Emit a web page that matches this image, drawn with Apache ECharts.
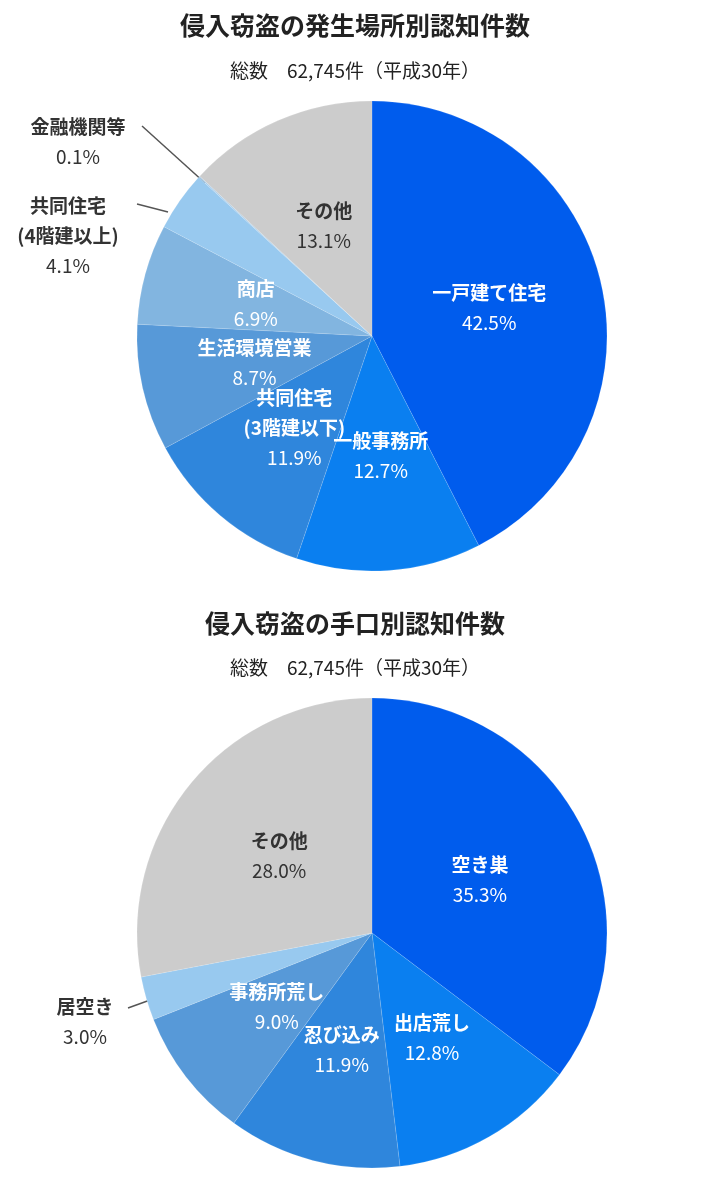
<!DOCTYPE html>
<html>
<head>
<meta charset="UTF-8">
<script src="https://cdn.jsdelivr.net/npm/echarts@6/dist/echarts.min.js"></script>
<style>
  html, body { margin: 0; padding: 0; background: #fff; }
  #main { width: 701px; height: 1184px; }
</style>
</head>
<body>
<div id="main"></div>
<script>
  // 発生場所別
  var placeNames = ['一戸建て住宅', '一般事務所', '共同住宅\n(3階建以下)', '生活環境営業', '商店', '共同住宅\n(4階建以上)', '金融機関等', 'その他'];
  var placeValues = [42.5, 12.7, 11.9, 8.7, 6.9, 4.1, 0.1, 13.1];
  var placeColors = ['#005ced', '#0a7ff0', '#2f86dc', '#5799d8', '#82b5e0', '#98c9ef', '#a9cdea', '#cccccc'];
  // 手口別
  var methodNames = ['空き巣', '出店荒し', '忍び込み', '事務所荒し', '居空き', 'その他'];
  var methodValues = [35.3, 12.8, 11.9, 9.0, 3.0, 28.0];
  var methodColors = ['#005ced', '#0a7ff0', '#2f86dc', '#5799d8', '#98c9ef', '#cccccc'];

  var font = '"Noto Sans CJK JP", "Noto Sans", sans-serif';

  // 外側ラベルの位置 (名前 -> [x, y, 線の起点x, 起点y])
  var outside = {
    '金融機関等': [78, 140, 142, 126],
    '共同住宅\n(4階建以上)': [70, 236, 130, 204],
    '居空き': [85, 1020, 130, 1004]
  };

  function buildData(names, values, colors) {
    return names.map(function (n, i) {
      var dark = n === 'その他';
      var item = {
        name: n, value: values[i],
        itemStyle: { color: colors[i] },
        label: { color: dark ? '#333' : '#fff' }
      };
      if (outside[n]) {
        item.label = { color: '#333', position: 'outside' };
        item.labelLine = { show: true, lineStyle: { color: '#555', width: 1.5 } };
      }
      return item;
    });
  }

  function pieSeries(cy, names, values, colors) {
    return {
      type: 'pie',
      center: [372, cy],
      radius: 235,
      startAngle: 90,
      clockwise: true,
      silent: true,
      itemStyle: { borderColor: 'rgba(255,255,255,0.25)', borderWidth: 0.5 },
      label: {
        position: 'inside',
        fontFamily: font,
        formatter: function (p) {
          var lines = p.name.split('\n').map(function (s) { return '{b|' + s + '}'; });
          return lines.join('\n') + '\n{v|' + p.value.toFixed(1) + '%}';
        },
        rich: {
          b: { fontSize: 19, fontWeight: 'bold', lineHeight: 30, fontFamily: font },
          v: { fontSize: 19, lineHeight: 30, fontFamily: font }
        }
      },
      labelLine: { show: false },
      labelLayout: function (params) {
        var name = params.text ? null : null;
        return {};
      },
      data: buildData(names, values, colors)
    };
  }

  var chart = echarts.init(document.getElementById('main'));
  var s1 = pieSeries(336, placeNames, placeValues, placeColors);
  var s2 = pieSeries(933, methodNames, methodValues, methodColors);
  [s1, s2].forEach(function (s) {
    s.labelLayout = function (params) {
      var n = s.data[params.dataIndex].name;
      var o = outside[n];
      if (!o) return {};
      return {
        x: o[0], y: o[1], align: 'center', verticalAlign: 'middle',
        labelLinePoints: [[params.labelRect.x, 0], [0, 0], [0, 0]]
      };
    };
  });
  s1.labelLayout = function (params) {
    var n = placeNames[params.dataIndex];
    if (n === '金融機関等') return { x: 78, y: 142, align: 'center', verticalAlign: 'middle',
      labelLinePoints: [[142, 126], [142, 126], [205, 183]] };
    if (n === '共同住宅\n(4階建以上)') return { x: 68, y: 236, align: 'center', verticalAlign: 'middle',
      labelLinePoints: [[137, 204], [137, 204], [168, 212]] };
    return {};
  };
  s2.labelLayout = function (params) {
    var n = methodNames[params.dataIndex];
    if (n === '居空き') return { x: 85, y: 1022, align: 'center', verticalAlign: 'middle',
      labelLinePoints: [[128, 1008], [128, 1008], [186, 987]] };
    return {};
  };

  chart.setOption({
    animation: false,
    title: [
      { text: '侵入窃盗の発生場所別認知件数', left: 350, top: 8, textAlign: 'center',
        textStyle: { fontSize: 25, fontWeight: 'bold', color: '#222', fontFamily: font } },
      { text: '総数　62,745件（平成30年）', left: 350, top: 56, textAlign: 'center',
        textStyle: { fontSize: 19, fontWeight: 'normal', color: '#222', fontFamily: font } },
      { text: '侵入窃盗の手口別認知件数', left: 350, top: 606, textAlign: 'center',
        textStyle: { fontSize: 25, fontWeight: 'bold', color: '#222', fontFamily: font } },
      { text: '総数　62,745件（平成30年）', left: 350, top: 653, textAlign: 'center',
        textStyle: { fontSize: 19, fontWeight: 'normal', color: '#222', fontFamily: font } }
    ],
    series: [s1, s2]
  });
</script>
</body>
</html>
